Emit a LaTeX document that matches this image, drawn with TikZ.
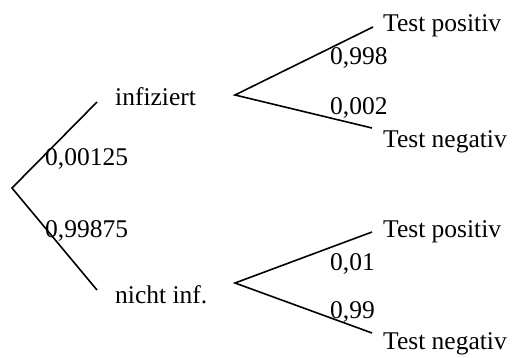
\documentclass[tikz,border=0pt]{standalone}
\usepackage{fontspec}
\setmainfont{Liberation Serif}
\begin{document}
\begin{tikzpicture}[x=1pt,y=-1pt,
  lbl/.style={anchor=base west,inner sep=0pt,font=\fontsize{25.5}{28}\selectfont},
  branch/.style={line width=1.6pt}]
\useasboundingbox (0,0) rectangle (513,358);
% coordinates
\coordinate (r) at (12,188);
\coordinate (a1) at (97,102);
\coordinate (a2) at (97,290);
\coordinate (br) at (235,95);
\coordinate (b1) at (373,27);
\coordinate (b2) at (372,128);
\coordinate (cr) at (235,283);
\coordinate (c1) at (372,232);
\coordinate (c2) at (372,333);
% branches
\draw[branch] (a1) -- (r) -- (a2);
\draw[branch] (b1) -- (br) -- (b2);
\draw[branch] (c1) -- (cr) -- (c2);
% labels
\node[lbl] (inf) at (115,106) {infiziert};
\node[lbl] (ninf) at (115,303) {nicht inf.};
\node[lbl] (p1) at (45,165) {0,00125};
\node[lbl] (p2) at (45,237) {0,99875};
\node[lbl] (tp1) at (383,32) {Test positiv};
\node[lbl] (q1) at (330,65) {0,998};
\node[lbl] (q2) at (330,115) {0,002};
\node[lbl] (tn1) at (383,147) {Test negativ};
\node[lbl] (tp2) at (383,237) {Test positiv};
\node[lbl] (q3) at (330,270) {0,01};
\node[lbl] (q4) at (330,318) {0,99};
\node[lbl] (tn2) at (383,349) {Test negativ};
\end{tikzpicture}
\end{document}
